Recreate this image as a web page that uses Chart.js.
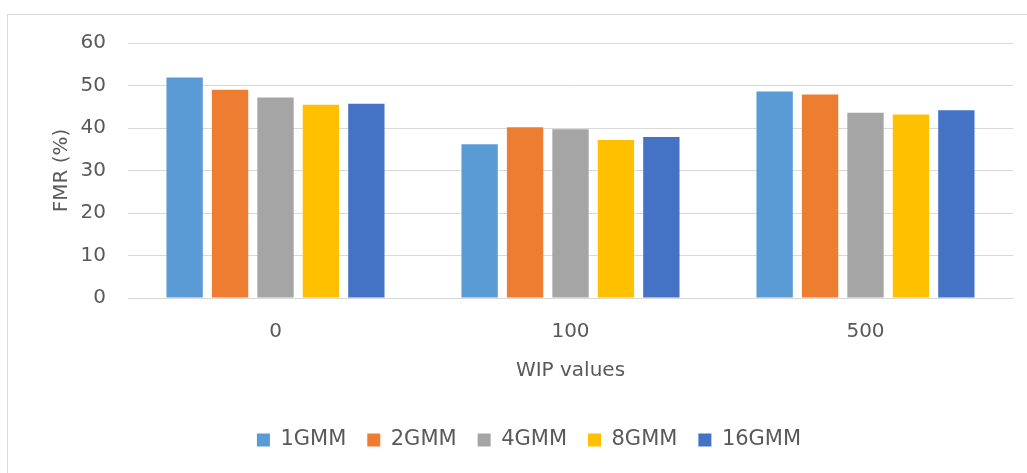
<!DOCTYPE html>
<html>
<head>
<meta charset="utf-8">
<script src="https://cdn.jsdelivr.net/npm/chart.js@4/dist/chart.umd.min.js"></script>
<style>
  html, body { margin: 0; padding: 0; background: #ffffff; }
  #wrap { position: relative; width: 1027px; height: 473px; overflow: hidden; }
  #frame { position: absolute; left: 7px; top: 14px; width: 1100px; height: 600px;
           border-left: 1px solid #d9d9d9; border-top: 1px solid #d9d9d9; }
  #c { position: absolute; left: 0; top: 0; }
</style>
</head>
<body>
<div id="wrap">
  <div id="frame"></div>
  <canvas id="c" width="1027" height="473"></canvas>
</div>
<script>
// WIP settings on the x axis
const wipValues = ['0', '100', '500'];

// FMR (%) for each GMM size
const gmm1  = [51.9, 36.2, 48.6];
const gmm2  = [49.0, 40.2, 47.9];
const gmm4  = [47.2, 39.7, 43.6];
const gmm8  = [45.5, 37.2, 43.2];
const gmm16 = [45.7, 37.9, 44.2];

const seriesNames  = ['1GMM', '2GMM', '4GMM', '8GMM', '16GMM'];
const seriesData   = [gmm1, gmm2, gmm4, gmm8, gmm16];
const seriesColors = ['#5B9BD5', '#ED7D31', '#A5A5A5', '#FFC000', '#4472C4'];

const textColor = '#595959';
const gridColor = '#d9d9d9';
const fontFamily = '"DejaVu Sans", sans-serif';

new Chart(document.getElementById('c'), {
  type: 'bar',
  data: {
    labels: wipValues,
    datasets: seriesNames.map((name, i) => ({
      label: name,
      data: seriesData[i],
      backgroundColor: seriesColors[i],
      borderWidth: 0,
      categoryPercentage: 0.77,
      barPercentage: 0.8
    }))
  },
  options: {
    responsive: false,
    animation: false,
    layout: { padding: { top: 43, right: 14, bottom: 12.5, left: 45 } },
    plugins: {
      tooltip: { enabled: false },
      legend: {
        position: 'bottom',
        labels: {
          color: textColor,
          font: { family: fontFamily, size: 21 },
          boxWidth: 13,
          boxHeight: 13,
          padding: 21
        }
      }
    },
    scales: {
      x: {
        grid: { display: false, drawTicks: false },
        border: { display: true, color: gridColor, width: 1 },
        ticks: { color: textColor, font: { family: fontFamily, size: 20 }, padding: 22 },
        title: {
          display: true,
          text: 'WIP values',
          color: textColor,
          font: { family: fontFamily, size: 20 },
          padding: { top: 0, bottom: 25.5 }
        },
        afterFit(scale) { scale.height = 110.5; }
      },
      y: {
        min: 0,
        max: 60,
        grid: { color: gridColor, lineWidth: 1, drawTicks: false },
        border: { display: false },
        ticks: { stepSize: 10, color: textColor, font: { family: fontFamily, size: 20 }, padding: 22 },
        title: {
          display: true,
          text: 'FMR (%)',
          color: textColor,
          font: { family: fontFamily, size: 20 },
          padding: { top: 5, bottom: 0 }
        },
        afterFit(scale) { scale.width = 83; }
      }
    }
  }
});
</script>
</body>
</html>
